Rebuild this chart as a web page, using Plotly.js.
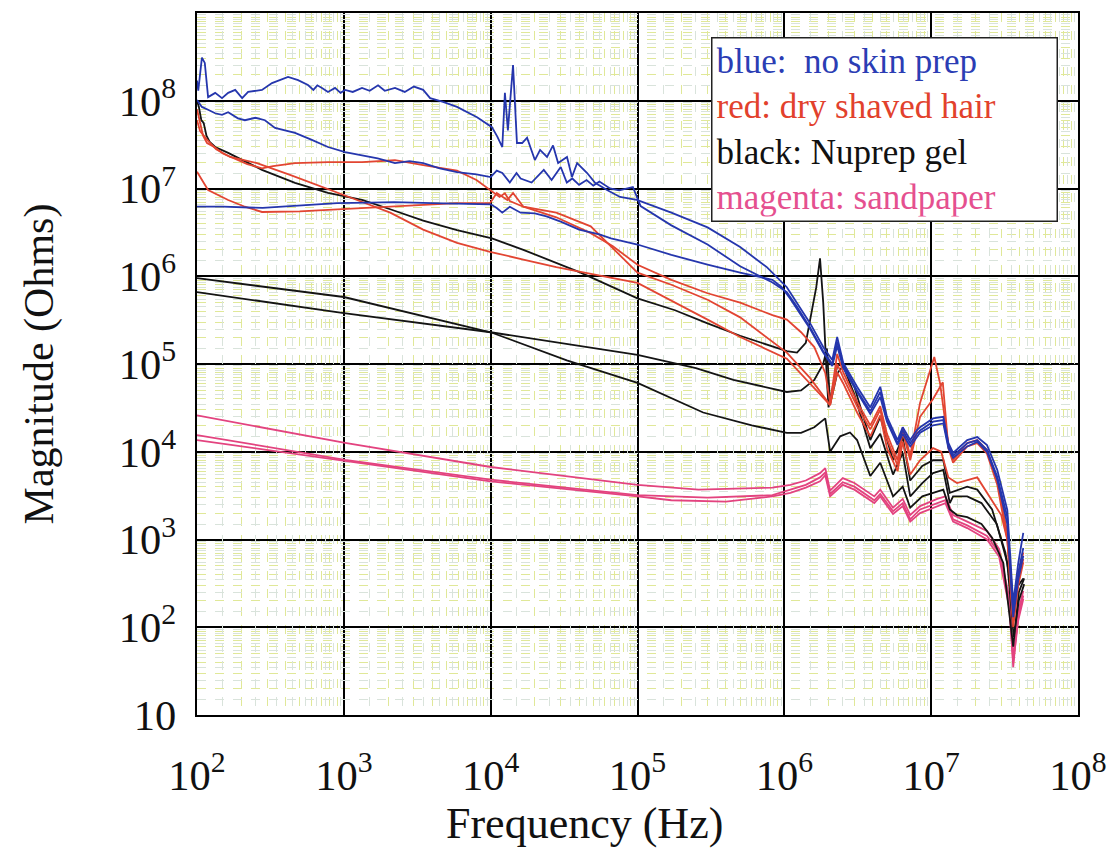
<!DOCTYPE html>
<html>
<head>
<meta charset="utf-8">
<script src="https://cdn.plot.ly/plotly-3.0.1.min.js"></script>
<style>html,body{margin:0;padding:0;background:#fff;}#chart{width:1110px;height:852px;}</style>
</head>
<body>
<div id="chart"></div>
<script>
// ---- Data (frequency in Hz, magnitude in Ohms) ----
const blue1F = [100,102,108,113,119,133,148,163,182,203,223,277,324,417,488,570,620,660,710,780,871,950,1020,1150,1330,1500,1710,1900,2230,2600,3000,3470,3870,4740,5900,8080,10200,11100,12000,12500,13100,14200,15100,16400,17700,20000,21700,24200,26600,28800,33100,35800,38800,45400,51400,62000,76000,99000,170000,300000,500000,760000,1040000,1220000,1500000,1840000,2120000,2290000,2520000,3130000,3850000,4500000,5000000,5900000,6400000,7200000,8000000,8400000,10300000,12100000,13100000,14100000,17600000,20600000,24000000,28200000,33000000,36200000,39200000,42400000];
const blue1Z = [1.7e8,1.3e8,3.1e8,2.7e8,1.1e8,1.23e8,1.07e8,1.23e8,1.33e8,1.07e8,1.26e8,1.33e8,1.59e8,1.87e8,1.72e8,1.51e8,1.33e8,1.5e8,1.4e8,1.26e8,1.4e8,1.23e8,1.33e8,1.26e8,1.4e8,1.3e8,1.5e8,1.3e8,1.4e8,1.26e8,1.45e8,1.33e8,1.07e8,9.7e7,8.5e7,6.5e7,5.0e7,3.9e7,2.97e7,1.23e8,4.6e7,2.55e8,3.3e7,3.3e7,3.8e7,2.11e7,2.75e7,2.29e7,3.1e7,1.95e7,2.29e7,1.35e7,1.95e7,1.5e7,1.16e7,9.6e6,8.0e6,7.4e6,5.3e6,3.6e6,2.15e6,1.27e6,7.5e5,5.0e5,2.9e5,1.56e5,1.11e5,2.03e5,1.03e5,5.5e4,3.2e4,5.5e4,2.5e4,1.36e4,1.9e4,1.36e4,1.77e4,1.9e4,2.4e4,2.5e4,1.26e4,9.7e3,1.36e4,1.47e4,1.19e4,6.2e3,2.17e3,189,540,1190];

const blue2F = [100,108,119,133,148,163,190,212,250,290,340,400,465,600,780,1020,1330,1700,2230,2800,3470,4500,5900,8000,10000,11000,12000,13500,15000,16000,19000,21000,23000,26000,28000,30000,33000,36000,40000,45000,50000,55000,65000,75000,93000,105000,170000,300000,500000,830000,1040000,1220000,1500000,1840000,2120000,2290000,2520000,3130000,3850000,4500000,5000000,5900000,6400000,7200000,8000000,8400000,10300000,12100000,13100000,14100000,17600000,20600000,24000000,28200000,33000000,36200000,39200000,42400000];
const blue2Z = [1.02e8,8.5e7,7.9e7,7.2e7,6.9e7,7.4e7,6.3e7,6.0e7,6.4e7,6.0e7,4.9e7,4.6e7,4.3e7,3.6e7,2.97e7,2.6e7,2.4e7,2.2e7,1.95e7,2.05e7,1.95e7,1.7e7,1.54e7,1.45e7,1.35e7,1.6e7,1.5e7,1.17e7,1.5e7,1.3e7,1.17e7,1.4e7,1.63e7,1.25e7,1.5e7,1.76e7,1.17e7,1.3e7,1.1e7,1.25e7,1.08e7,1.2e7,1.0e7,9.5e6,1.04e7,6.3e6,3.8e6,2.3e6,1.3e6,8.5e5,6.6e5,4.5e5,2.6e5,1.4e5,1.0e5,1.8e5,9.5e4,5.0e4,2.9e4,4.8e4,2.3e4,1.25e4,1.75e4,1.25e4,1.6e4,1.75e4,2.2e4,2.3e4,1.15e4,9.0e3,1.25e4,1.35e4,1.05e4,5.2e3,1.8e3,150,420,800];

const blue3F = [100,150,280,430,900,1500,2200,4000,7000,10000,11000,12000,13500,16000,20000,24000,30000,40000,55000,66000,100000,170000,300000,500000,830000,960000,1100000,1220000,1500000,1840000,2120000,2290000,2520000,3130000,3850000,4500000,5000000,5900000,6400000,7200000,8000000,8400000,10300000,12100000,13100000,14100000,17600000,20600000,24000000,28200000,33000000,36200000,39200000,42400000];
const blue3Z = [6.2e6,6.2e6,6.0e6,6.3e6,6.8e6,6.9e6,7.0e6,6.8e6,6.7e6,6.6e6,6.0e6,5.3e6,6.2e6,5.3e6,5.2e6,4.8e6,4.2e6,3.4e6,3.0e6,2.7e6,2.3e6,1.75e6,1.36e6,1.1e6,9.1e5,7.5e5,5.5e5,4.2e5,2.5e5,1.35e5,9.5e4,1.6e5,9.0e4,4.8e4,2.7e4,4.2e4,2.2e4,1.2e4,1.6e4,1.15e4,1.5e4,1.65e4,2.0e4,2.1e4,1.1e4,8.5e3,1.15e4,1.3e4,1.0e4,4.8e3,1.5e3,130,350,650];

const red1F = [100,105,110,117,130,150,180,220,277,330,465,780,1330,2230,3470,5900,8000,9900,11500,12500,13500,16700,28000,48000,68000,100000,170000,300000,500000,830000,1040000,1300000,1600000,1900000,2050000,2290000,2520000,3130000,3850000,4500000,5000000,5900000,6400000,7200000,8400000,10500000,11500000,13100000,14100000,17600000,20600000,24000000,28200000,33000000,36200000,39200000,42400000];
const red1Z = [8.0e7,5.6e7,4.0e7,3.3e7,3.0e7,2.5e7,2.2e7,1.9e7,1.7e7,1.8e7,1.95e7,2.0e7,2.0e7,2.1e7,1.85e7,1.6e7,1.25e7,9.6e6,8.0e6,8.8e6,7.2e6,6.2e6,4.7e6,3.1e6,2.2e6,1.35e6,9.1e5,6.4e5,5.0e5,3.6e5,3.2e5,2.3e5,1.56e5,7.9e4,3.6e4,1.3e5,8.0e4,3.7e4,2.0e4,3.3e4,1.6e4,8.0e3,1.9e4,9.0e3,3.6e4,1.2e5,6.0e4,1.2e4,8.0e3,1.26e4,1.36e4,1.05e4,4.7e3,1.2e3,150,400,710];

const red2F = [100,105,117,135,168,256,430,720,1230,2070,3470,5900,9900,16700,28000,41000,100000,300000,500000,1040000,1500000,2050000,2290000,2520000,3130000,3850000,4500000,5000000,5900000,6400000,7200000,8400000,10300000,11700000,13100000,15000000,20600000,25000000,30000000,33000000,36200000,39200000,42400000];
const red2Z = [6.0e7,4.5e7,3.6e7,2.8e7,2.29e7,1.95e7,1.43e7,1.04e7,7.4e6,5.3e6,3.4e6,2.4e6,1.9e6,1.55e6,1.27e6,1.12e6,8.4e5,3.2e5,2.03e5,1.15e5,6.0e4,3.4e4,8.0e4,6.0e4,2.8e4,1.5e4,2.6e4,1.1e4,6.0e3,1.3e4,5.5e3,8.0e3,1.1e4,1.0e4,5.1e3,4.4e3,5.1e3,3.1e3,1.9e3,1.0e3,100,300,550];

const red3F = [100,119,163,212,277,500,780,2070,5900,9900,11000,13000,14200,16700,28000,48000,68000,100000,170000,300000,500000,1040000,1500000,2050000,2290000,2520000,3130000,3850000,4500000,5000000,5900000,6400000,7200000,8400000,10300000,12000000,13100000,14100000,17600000,20600000,24000000,28200000,33000000,36200000,39200000,42400000];
const red3Z = [1.55e7,9.6e6,7.4e6,6.2e6,5.4e6,5.5e6,5.7e6,6.2e6,6.8e6,6.8e6,8.9e6,7.4e6,8.9e6,6.2e6,5.3e6,3.7e6,2.1e6,1.1e6,8.0e5,5.4e5,3.4e5,1.35e5,6.9e4,3.4e4,1.0e5,7.0e4,3.3e4,1.8e4,3.0e4,1.4e4,7.0e3,1.7e4,8.0e3,2.5e4,4.0e4,6.2e4,1.1e4,7.5e3,1.15e4,1.25e4,9.5e3,4.2e3,1.0e3,120,350,600];

const black1F = [100,103,107,111,116,122,133,163,277,465,780,1330,2070,3470,5900,10200,16700,28000,41000,100000,180000,300000,500000,1040000,1220000,1400000,1500000,1650000,1750000,1840000,1950000,2000000,2290000,2520000,3000000,3850000,4500000,5500000,6400000,7200000,8700000,10300000,12100000,13400000,17600000,20600000,26000000,32000000,36200000,39200000,42400000];
const black1Z = [1.0e8,8.5e7,6.0e7,5.6e7,4.0e7,3.4e7,2.97e7,2.55e7,1.63e7,1.16e7,8.9e6,7.4e6,5.8e6,4.3e6,3.35e6,2.7e6,2.0e6,1.42e6,1.1e6,5.6e5,4.1e5,2.9e5,2.1e5,1.4e5,1.35e5,1.74e5,3.2e5,7.5e5,1.6e6,5.0e5,6.6e4,3.2e4,9.5e4,1.0e5,5.5e4,1.36e4,2.5e4,8.0e3,1.47e4,4.7e3,6.9e3,8.0e3,8.0e3,3.4e3,4.0e3,3.7e3,2.2e3,710,210,300,360];

const black2F = [100,1000,10000,100000,250000,450000,1040000,1300000,1600000,1840000,1950000,2050000,2290000,2520000,3000000,3850000,4500000,5500000,6400000,7200000,8700000,10300000,12100000,13400000,14100000,17600000,22000000,28000000,33000000,36500000,39500000,43000000];
const black2Z = [6.6e5,3.8e5,2.3e5,1.27e5,9.0e4,6.6e4,4.8e4,5.0e4,6.6e4,1.0e5,1.5e5,3.5e4,7.8e4,9.5e4,4.5e4,1.1e4,1.6e4,5.5e3,9.7e3,3.1e3,4.4e3,5.7e3,6.2e3,2.6e3,3.1e3,3.1e3,2.6e3,1.5e3,540,77,200,310];

const black3F = [100,1000,10000,33000,100000,280000,600000,1040000,1300000,1600000,1900000,2050000,2400000,2800000,3130000,3850000,4500000,5500000,6400000,7200000,8700000,10300000,12100000,13400000,15000000,17600000,22000000,26000000,31000000,36200000,39500000,43000000];
const black3Z = [9.5e5,5.8e5,2.3e5,1.1e5,6.1e4,2.8e4,2.0e4,1.64e4,1.64e4,1.9e4,2.4e4,1.0e4,1.5e4,1.66e4,1.36e4,5.3e3,7.5e3,3.1e3,4.0e3,2.3e3,3.1e3,3.4e3,3.7e3,2.2e3,1.9e3,1.8e3,1.5e3,1.05e3,540,60,250,360];

const mag1F = [100,256,1020,10000,100000,260000,830000,1100000,1400000,1750000,1900000,2050000,2500000,3000000,4100000,4500000,5500000,6400000,7200000,8400000,11000000,12500000,14100000,17600000,24000000,29000000,34000000,36200000,39200000,42400000];
const mag1Z = [2.6e4,1.95e4,1.26e4,6.7e3,4.2e3,3.7e3,3.9e3,4.2e3,4.7e3,5.7e3,6.5e3,3.6e3,5.0e3,4.4e3,3.1e3,3.7e3,2.3e3,2.9e3,1.9e3,2.4e3,2.9e3,3.1e3,1.9e3,1.6e3,1.25e3,780,220,35,150,260];

const mag2F = [100,1020,10000,100000,300000,830000,1100000,1400000,1750000,1900000,2050000,2500000,3000000,4100000,4500000,5500000,6400000,7200000,8400000,11000000,12500000,14100000,17600000,24000000,29000000,34000000,36200000,39200000,42400000];
const mag2Z = [1.55e4,8.1e3,4.8e3,3.2e3,3.0e3,3.2e3,3.7e3,4.2e3,5.1e3,5.8e3,3.3e3,4.5e3,4.0e3,2.8e3,3.3e3,2.1e3,2.6e3,1.7e3,2.2e3,2.6e3,2.8e3,1.7e3,1.45e3,1.1e3,700,190,45,130,230];

const mag3F = [100,1020,10000,100000,170000,400000,830000,1100000,1400000,1750000,1900000,2050000,2500000,3000000,4100000,4500000,5500000,6400000,7200000,8400000,11000000,12500000,14100000,17600000,24000000,29000000,34000000,36200000,39200000,42400000];
const mag3Z = [1.36e4,7.8e3,4.6e3,3.1e3,2.8e3,2.7e3,3.1e3,3.4e3,3.9e3,4.6e3,5.4e3,3.1e3,4.2e3,3.7e3,2.6e3,3.1e3,1.95e3,2.4e3,1.6e3,2.0e3,2.4e3,2.6e3,1.6e3,1.35e3,1.0e3,640,170,40,120,210];

const legendLines = [
  {label: 'blue:\u00a0\u00a0no skin prep', color: '#2b3db4'},
  {label: 'red: dry shaved hair', color: '#e2412c'},
  {label: 'black: Nuprep gel', color: '#111111'},
  {label: 'magenta: sandpaper', color: '#e5508f'}
];
const xTitle = 'Frequency (Hz)';
const yTitle = 'Magnitude (Ohms)';

// ---- Styles ----
const BLUE = '#2536ad', RED = '#e24532', BLACK = '#141414', MAG = '#e3437f';
const serif = 'Liberation Serif, Times New Roman, serif';

function tr(x, y, color) {
  return {x: x, y: y, type: 'scatter', mode: 'lines', line: {color: color, width: 1.8}, hoverinfo: 'skip', showlegend: false};
}

const traces = [
  tr(mag1F, mag1Z, MAG), tr(mag2F, mag2Z, MAG), tr(mag3F, mag3Z, MAG),
  tr(black1F, black1Z, BLACK), tr(black2F, black2Z, BLACK), tr(black3F, black3Z, BLACK),
  tr(red1F, red1Z, RED), tr(red2F, red2Z, RED), tr(red3F, red3Z, RED),
  tr(blue1F, blue1Z, BLUE), tr(blue2F, blue2Z, BLUE), tr(blue3F, blue3Z, BLUE)
];

// finer graph-paper grid (half steps) on overlay axes
const fineX = [], fineY = [];
for (let d = 2; d < 8; d++) for (let k = 1; k < 10; k++) fineX.push((k + 0.5) * Math.pow(10, d));
for (let d = 1; d < 9; d++) for (let k = 1; k < 10; k++) fineY.push((k + 0.5) * Math.pow(10, d));
traces.push({x: [1000], y: [1000], xaxis: 'x2', yaxis: 'y2', type: 'scatter', mode: 'markers',
  marker: {opacity: 0}, hoverinfo: 'skip', showlegend: false});

const legendText = legendLines.map(l => '<span style="color:' + l.color + '">' + l.label + '</span>').join('<br>');

const layout = {
  width: 1110, height: 852,
  margin: {l: 197, r: 32, t: 13, b: 137},
  paper_bgcolor: '#ffffff', plot_bgcolor: '#ffffff',
  showlegend: false,
  font: {family: serif, color: '#111'},
  xaxis: {
    type: 'log', range: [2, 8], tickmode: 'linear', tick0: 0, dtick: 1,
    exponentformat: 'power', showexponent: 'all',
    showgrid: true, gridcolor: '#000', gridwidth: 2,
    minor: {dtick: 'D1', showgrid: true, gridcolor: '#e0e898', gridwidth: 1, griddash: 'dash'},
    showline: true, linecolor: '#000', linewidth: 2, mirror: true,
    ticks: '', zeroline: false,
    tickfont: {family: serif, size: 34, color: '#111'},
    ticklabelstandoff: 24
  },
  yaxis: {
    type: 'log', range: [1, 9], tickmode: 'linear', tick0: 0, dtick: 1,
    exponentformat: 'power', showexponent: 'all',
    showgrid: true, gridcolor: '#000', gridwidth: 2,
    minor: {dtick: 'D1', showgrid: true, gridcolor: '#e0e898', gridwidth: 1, griddash: 'dash'},
    showline: true, linecolor: '#000', linewidth: 2, mirror: true,
    ticks: '', zeroline: false,
    tickfont: {family: serif, size: 34, color: '#111'},
    ticklabelstandoff: 12,
    title: {text: yTitle, font: {family: serif, size: 42, color: '#111'}, standoff: 52}
  },
  xaxis2: {type: 'log', range: [2, 8], overlaying: 'x', anchor: 'y', tickmode: 'array', tickvals: fineX,
    showticklabels: false, ticks: '', showgrid: true, gridcolor: '#d9e3db', gridwidth: 1, griddash: 'dash',
    showline: false, zeroline: false},
  yaxis2: {type: 'log', range: [1, 9], overlaying: 'y', anchor: 'x', tickmode: 'array', tickvals: fineY,
    showticklabels: false, ticks: '', showgrid: true, gridcolor: '#d9e3db', gridwidth: 1, griddash: 'dash',
    showline: false, zeroline: false},
  annotations: [
    {xref: 'paper', yref: 'paper', x: 0.5834, y: 0.9658, xanchor: 'left', yanchor: 'top',
     text: legendText, align: 'left', showarrow: false, width: 336, height: 174, valign: 'middle',
     bgcolor: '#ffffff', bordercolor: '#222', borderwidth: 1.5, borderpad: 4,
     font: {family: serif, size: 35, color: '#111'}},
    {xref: 'paper', yref: 'paper', x: 0.4404, y: -0.154, xanchor: 'center', yanchor: 'middle',
     text: xTitle, showarrow: false, font: {family: serif, size: 44, color: '#111'}}
  ]
};

Plotly.newPlot('chart', traces, layout, {displayModeBar: false, staticPlot: true});
</script>
</body>
</html>
